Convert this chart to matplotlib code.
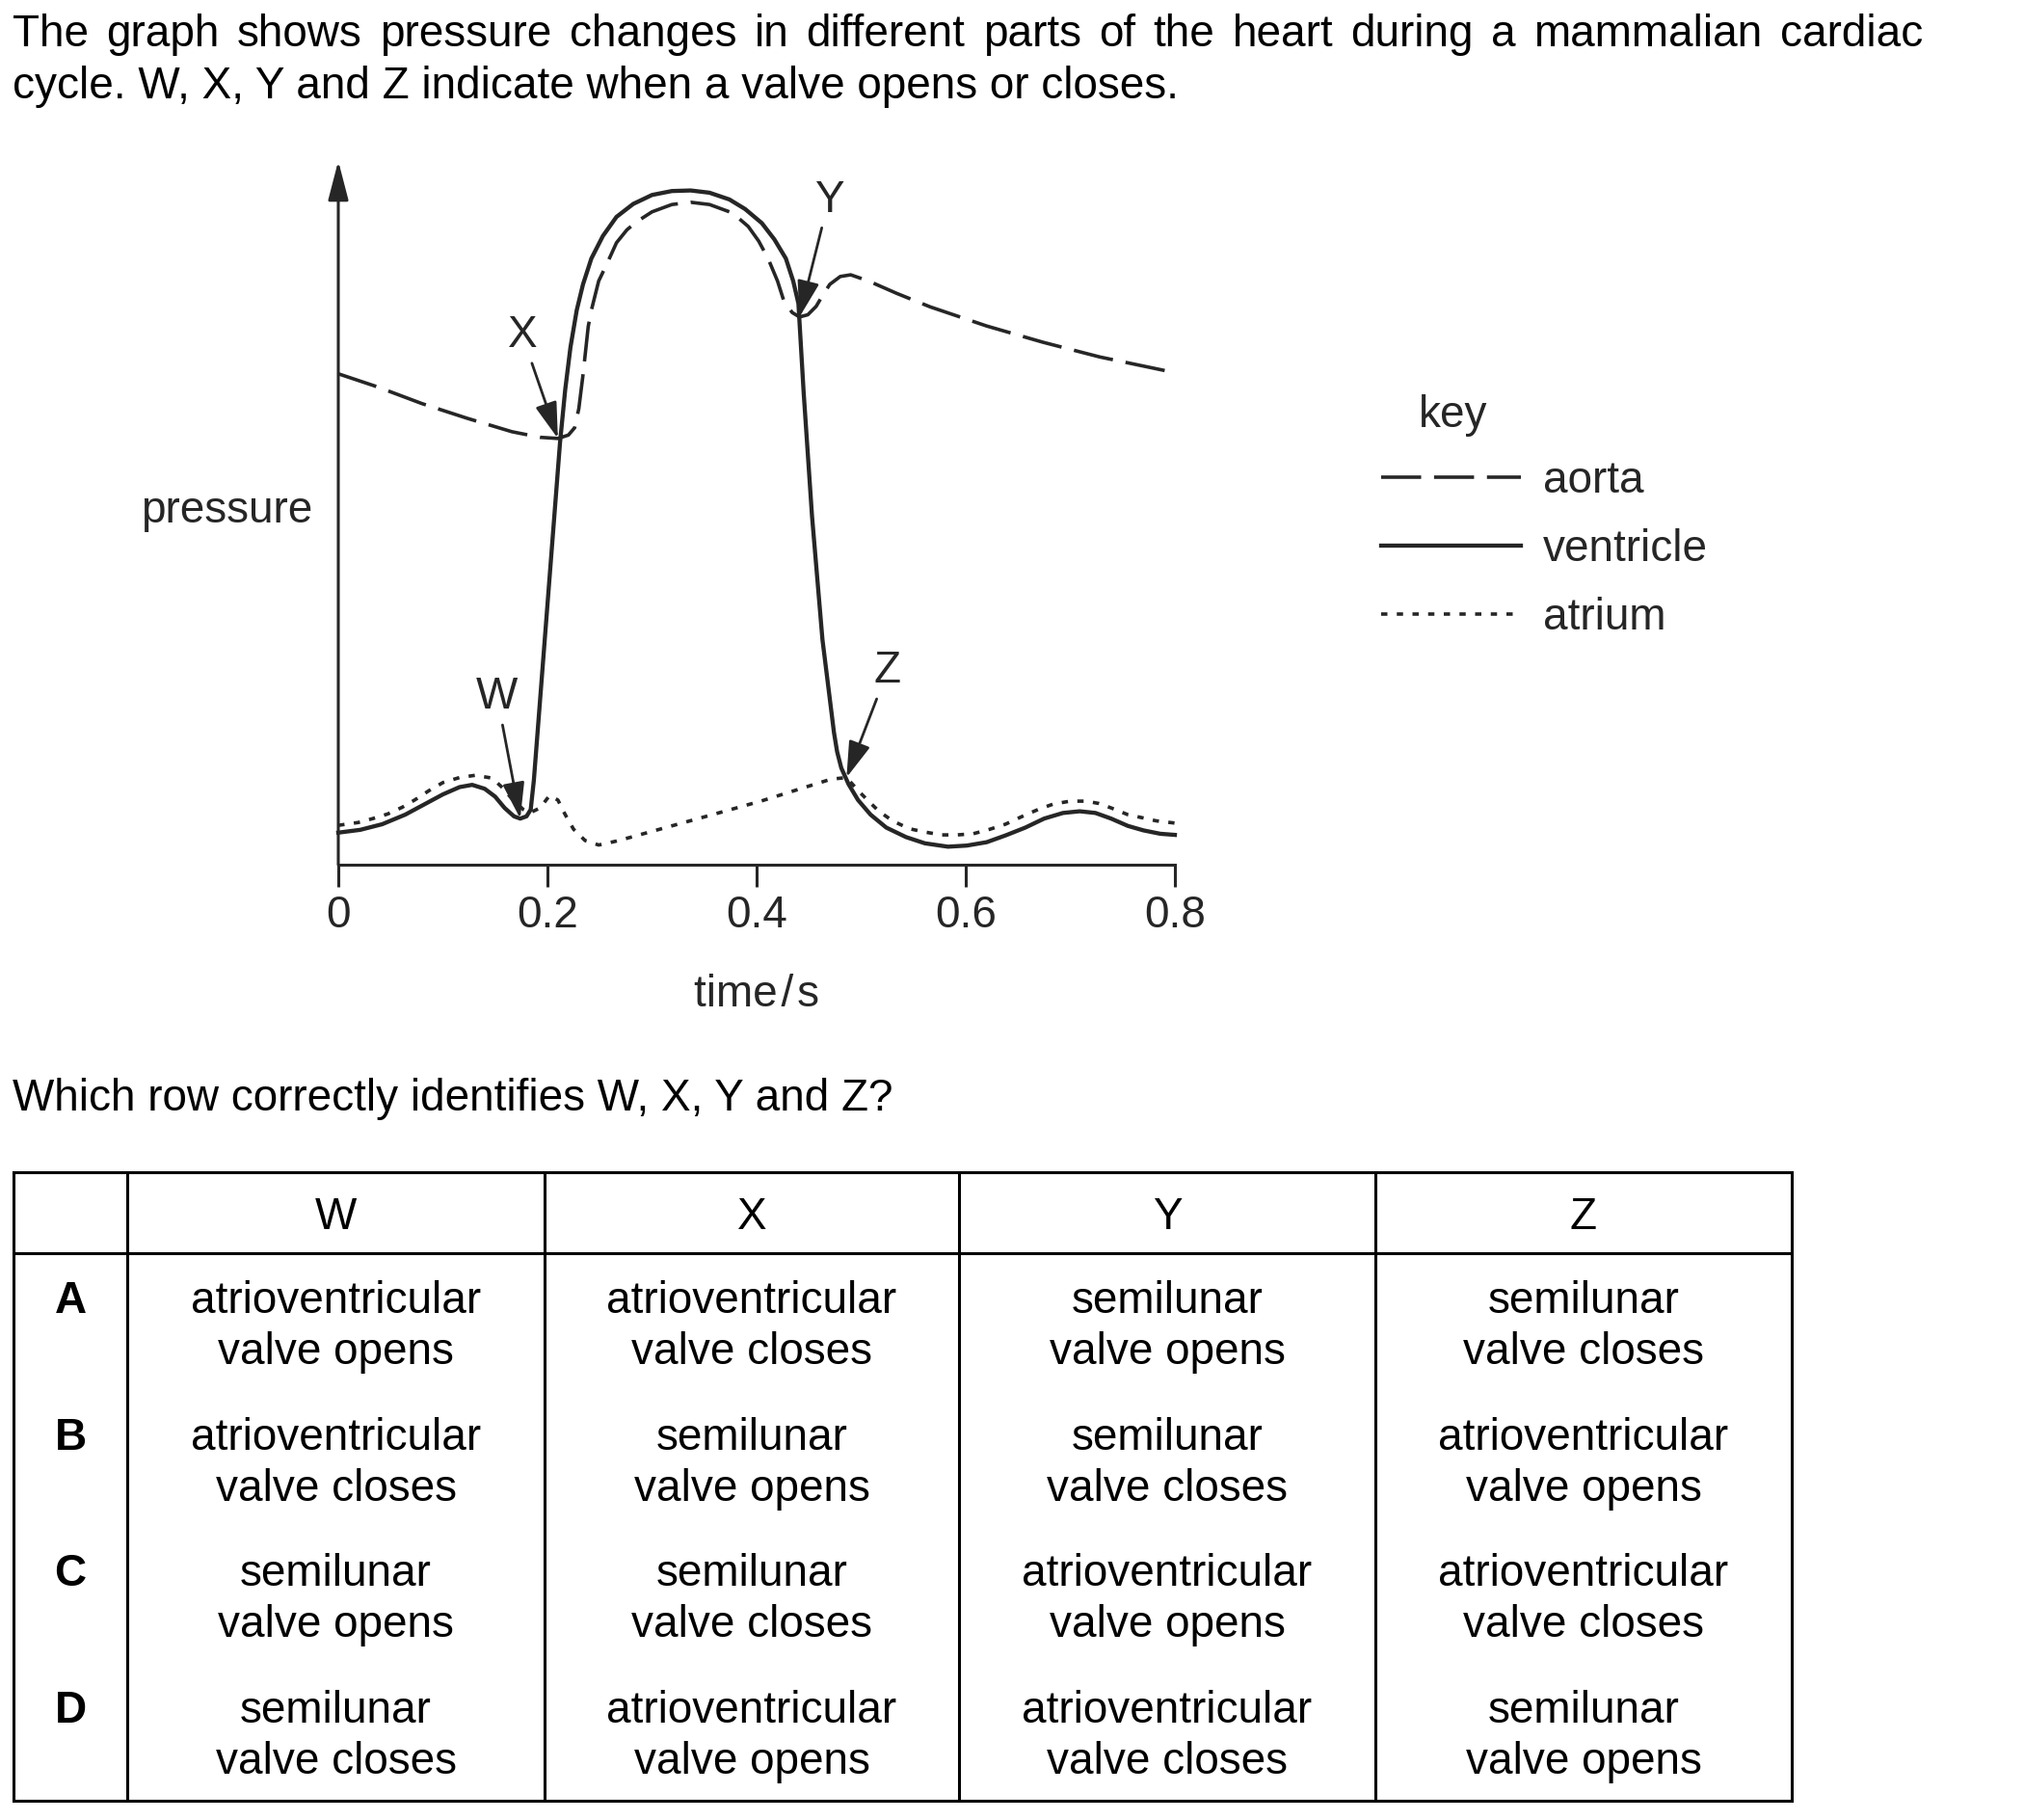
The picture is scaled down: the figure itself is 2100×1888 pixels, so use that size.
import numpy as np
import matplotlib
matplotlib.use('Agg')
from matplotlib import pyplot as plt

plt.rcParams['font.family'] = ['Liberation Sans', 'DejaVu Sans']
FS = 33
INK = '#262626'

# pressure curves (time in s, pressure in arbitrary units)
ventricle_t = [0.000, 0.021, 0.042, 0.064, 0.082, 0.100, 0.116, 0.128, 0.140, 0.150,
               0.159, 0.168, 0.174, 0.180, 0.184, 0.187, 0.212, 0.217, 0.222, 0.228,
               0.234, 0.242, 0.253, 0.266, 0.282, 0.300, 0.319, 0.337, 0.355, 0.374,
               0.389, 0.405, 0.417, 0.428, 0.435, 0.440, 0.445, 0.453, 0.463, 0.474,
               0.477, 0.481, 0.488, 0.497, 0.509, 0.524, 0.543, 0.561, 0.583, 0.601,
               0.620, 0.638, 0.657, 0.675, 0.693, 0.709, 0.724, 0.739, 0.755, 0.770,
               0.786, 0.800]
ventricle_p = [5.7, 6.2, 7.2, 8.9, 10.7, 12.5, 13.8, 14.2, 13.5, 12.1,
               10.1, 8.6, 8.2, 8.6, 9.8, 15.0, 75.0, 84.5, 92.0, 98.6,
               103.2, 107.8, 111.8, 115.2, 117.5, 119.1, 119.8, 119.9, 119.5, 118.3,
               116.6, 114.1, 111.2, 107.8, 103.8, 99.8, 84.0, 62.0, 40.0, 23.5,
               20.1, 17.2, 14.3, 11.5, 8.9, 6.6, 4.9, 3.8, 3.2, 3.4,
               4.0, 5.2, 6.6, 8.2, 9.2, 9.5, 9.2, 8.2, 6.9, 6.1,
               5.5, 5.3]

aorta_t = [0.000, 0.037, 0.080, 0.123, 0.166, 0.193, 0.210, 0.220, 0.226, 0.230,
           0.234, 0.239, 0.242, 0.249, 0.257, 0.266, 0.276, 0.285, 0.300, 0.319,
           0.337, 0.355, 0.377, 0.392, 0.402, 0.411, 0.420, 0.426, 0.434, 0.441,
           0.449, 0.457, 0.463, 0.470, 0.480, 0.490, 0.507, 0.534, 0.566, 0.620,
           0.674, 0.728, 0.800]
aorta_p = [87.3, 85.0, 82.0, 79.4, 77.0, 76.0, 75.8, 76.4, 77.7, 81.1,
           87.1, 95.7, 98.6, 103.8, 106.9, 110.6, 112.9, 114.3, 116.1, 117.4,
           117.8, 117.4, 115.9, 113.5, 110.9, 107.8, 103.8, 100.3, 98.2, 97.4,
           97.8, 99.3, 101.2, 103.2, 104.6, 104.9, 103.8, 101.6, 99.2, 95.8,
           92.9, 90.3, 87.5]

atrium_t = [0.000, 0.019, 0.033, 0.047, 0.061, 0.073, 0.087, 0.100, 0.116, 0.131,
            0.147, 0.157, 0.167, 0.177, 0.183, 0.193, 0.202, 0.210, 0.217, 0.225,
            0.236, 0.249, 0.266, 0.280, 0.350, 0.404, 0.471, 0.486, 0.497, 0.506,
            0.517, 0.530, 0.546, 0.561, 0.577, 0.592, 0.607, 0.623, 0.638, 0.653,
            0.669, 0.684, 0.700, 0.715, 0.727, 0.739, 0.755, 0.770, 0.782, 0.800]
atrium_p = [7.0, 7.5, 8.2, 9.0, 10.2, 11.5, 13.2, 14.6, 15.5, 15.9,
            15.4, 13.7, 11.5, 9.8, 9.2, 10.1, 12.3, 11.5, 8.9, 6.3,
            4.3, 3.5, 4.2, 4.9, 8.5, 11.3, 15.2, 15.5, 13.2, 11.5,
            9.5, 7.8, 6.4, 5.8, 5.3, 5.3, 5.5, 6.3, 7.2, 8.5,
            9.8, 10.8, 11.3, 11.3, 10.9, 10.1, 8.9, 8.3, 7.8, 7.4]

xticks = [0, 0.2, 0.4, 0.6, 0.8]
xtick_labels = ['0', '0.2', '0.4', '0.6', '0.8']

# W, X, Y, Z: label position and the curve point the arrow points at
events = ['W', 'X', 'Y', 'Z']
event_text = [(0.152, 29.8), (0.176, 94.1), (0.469, 118.2), (0.525, 34.4)]
event_curve = ['ventricle', 'aorta', 'aorta', 'atrium']
event_index = [12, 6, 29, 27]

question = ['The graph shows pressure changes in different parts of the heart during a mammalian cardiac',
            'cycle. W, X, Y and Z indicate when a valve opens or closes.']
prompt = 'Which row correctly identifies W, X, Y and Z?'
col_heads = ['W', 'X', 'Y', 'Z']
row_keys = ['A', 'B', 'C', 'D']
rows = [
    ['atrioventricular\nvalve opens', 'atrioventricular\nvalve closes', 'semilunar\nvalve opens', 'semilunar\nvalve closes'],
    ['atrioventricular\nvalve closes', 'semilunar\nvalve opens', 'semilunar\nvalve closes', 'atrioventricular\nvalve opens'],
    ['semilunar\nvalve opens', 'semilunar\nvalve closes', 'atrioventricular\nvalve opens', 'atrioventricular\nvalve closes'],
    ['semilunar\nvalve closes', 'atrioventricular\nvalve opens', 'atrioventricular\nvalve closes', 'semilunar\nvalve opens'],
]

W, H = 2100, 1888
fig = plt.figure(figsize=(W / 100, H / 100), dpi=100)

# page layer in pixel units
page = fig.add_axes([0, 0, 1, 1])
page.set_xlim(0, W)
page.set_ylim(H, 0)
page.axis('off')
r = fig.canvas.get_renderer()

def justify(text, x0, x1, y):
    words = text.split()
    tt = [page.text(0, y, w, fontsize=FS, va='baseline') for w in words]
    ws = [t.get_window_extent(r).width for t in tt]
    gap = (x1 - x0 - sum(ws)) / (len(words) - 1)
    x = x0
    for t, w in zip(tt, ws):
        t.set_x(x)
        x += w + gap

justify(question[0], 13, 1995, 48)
page.text(13, 102, question[1], fontsize=FS, va='baseline')
page.text(13, 1152, prompt, fontsize=FS, va='baseline')

# graph
y0, ytop = 897, 167
ax = fig.add_axes([351 / W, (H - y0) / H, 868 / W, (y0 - ytop) / H])
ax.patch.set_alpha(0)
ax.set_xlim(0, 0.8)
ax.set_ylim(0, (y0 - ytop) / (700 / 120))
for s in ['top', 'right', 'left']:
    ax.spines[s].set_visible(False)
ax.spines['bottom'].set_linewidth(2.2)
ax.spines['bottom'].set_color(INK)
ax.set_xticks(xticks)
ax.set_xticklabels(xtick_labels)
ax.tick_params(axis='x', direction='out', length=16.5, width=2.2, pad=6,
               labelsize=FS, colors=INK)
ax.tick_params(axis='y', left=False, labelleft=False)
ax.annotate('', xy=(0, 1), xycoords='axes fraction', xytext=(0, 0),
            arrowprops=dict(arrowstyle='-|>,head_length=25,head_width=6.5',
                            mutation_scale=1, lw=2.2, color=INK,
                            shrinkA=0, shrinkB=0))

l_aorta, = ax.plot(aorta_t, aorta_p, color=INK, lw=2.6, dashes=(11.5, 3.7),
                   solid_joinstyle='round', label='aorta', clip_on=False)
l_vent, = ax.plot(ventricle_t, ventricle_p, color=INK, lw=3.1,
                  solid_joinstyle='round', label='ventricle', clip_on=False)
l_atr, = ax.plot(atrium_t, atrium_p, color=INK, lw=2.6, dashes=(1.8, 2.7),
                 label='atrium', clip_on=False)

curves = {'ventricle': (ventricle_t, ventricle_p),
          'aorta': (aorta_t, aorta_p),
          'atrium': (atrium_t, atrium_p)}
for name, pos, c, i in zip(events, event_text, event_curve, event_index):
    ct, cp = curves[c]
    ax.annotate(name, xy=(ct[i], cp[i]), xytext=pos, ha='center', va='center',
                fontsize=FS, color=INK,
                arrowprops=dict(arrowstyle='-|>,head_length=23,head_width=7',
                                mutation_scale=1, lw=2.0, color=INK,
                                shrinkA=3, shrinkB=0))

ax.set_xlabel('time\u200a/\u200as', fontsize=FS, color=INK, labelpad=27)
page.text(324, 542, 'pressure', fontsize=FS, ha='right', va='baseline', color=INK)

page.text(1508, 443, 'key', fontsize=FS, ha='center', va='baseline', color=INK)
ax.legend(handles=[l_aorta, l_vent, l_atr], loc='upper left',
          bbox_to_anchor=(1433, 477), bbox_transform=page.transData,
          frameon=False, fontsize=FS, borderpad=0, borderaxespad=0,
          handlelength=3.17, handletextpad=0.5, labelspacing=0.59,
          labelcolor=INK)

# answer table
col_x = [14, 132, 565, 995, 1427, 1859]
t_top, t_head, t_bot = 1216, 1300, 1868
tlw = 2.2
page.plot([col_x[0], col_x[-1]], [t_top, t_top], color='black', lw=tlw, solid_capstyle='projecting')
page.plot([col_x[0], col_x[-1]], [t_head, t_head], color='black', lw=tlw)
page.plot([col_x[0], col_x[-1]], [t_bot, t_bot], color='black', lw=tlw, solid_capstyle='projecting')
for x in col_x:
    page.plot([x, x], [t_top, t_bot], color='black', lw=tlw, solid_capstyle='projecting')

centers = [(col_x[i] + col_x[i + 1]) / 2 for i in range(5)]
for j, h in enumerate(col_heads):
    page.text(centers[j + 1], 1259 + 16, h, fontsize=FS, ha='center', va='baseline')
row_c = 1372.5
for i, (k, cells) in enumerate(zip(row_keys, rows)):
    yc = row_c + i * 141.7
    page.text(centers[0], yc - 26.5 + 16, k, fontsize=FS, ha='center', va='baseline',
              fontweight='bold')
    for j, cell in enumerate(cells):
        for n, line in enumerate(cell.split('\n')):
            page.text(centers[j + 1], yc - 26.5 + 53 * n + 16, line, fontsize=FS,
                      ha='center', va='baseline')

fig.savefig('out.png', dpi=100, facecolor='white')
